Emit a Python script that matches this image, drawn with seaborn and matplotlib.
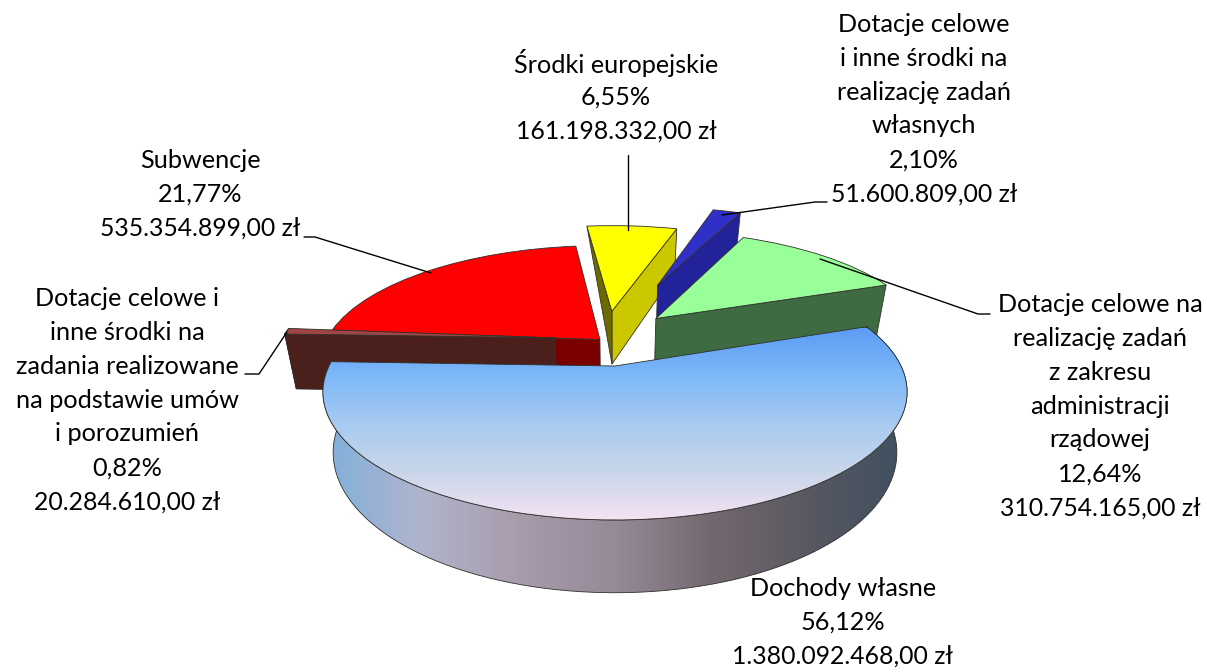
import numpy as np
import matplotlib
matplotlib.use("Agg")
import matplotlib.pyplot as plt
import matplotlib.transforms as mtransforms
from matplotlib.path import Path
from matplotlib.patches import PathPatch
import seaborn as sns

# ---- data ----
names = ["Dochody własne",
         "Dotacje celowe i\ninne środki na\nzadania realizowane\nna podstawie umów\ni porozumień",
         "Subwencje",
         "Środki europejskie",
         "Dotacje celowe\ni inne środki na\nrealizację zadań\nwłasnych",
         "Dotacje celowe na\nrealizację zadań\nz zakresu\nadministracji\nrządowej"]
shares = [56.12, 0.82, 21.77, 6.55, 2.10, 12.64]
share_text = ["56,12%", "0,82%", "21,77%", "6,55%", "2,10%", "12,64%"]
amounts = ["1.380.092.468,00 zł", "20.284.610,00 zł", "535.354.899,00 zł",
           "161.198.332,00 zł", "51.600.809,00 zł", "310.754.165,00 zł"]
top_colors = ["none", "#A04545", "#FF0000", "#FFFF00", "#3030C8", "#99FF99"]
low_face = [None, None, None, "#CCC800", "#22229A", "#3F6B43"]     # face at the smaller angle
high_face = [None, "#4A1F1C", "#7A0000", "#6B6B00", None, None]   # face at the larger angle
offsets = [(0.0, 0.0), (-0.22, 0.24), (-0.055, 0.225), (-0.012, 0.49), (0.172, 0.76), (0.155, 0.42)]
label_pos = [(843, 622), (127, 400), (200, 194), (616, 97), (924, 109), (1100, 406)]
leaders = [None,
           ([287, 259, 245], [332, 374, 374]),
           ([431, 315, 304], [273, 237, 237]),
           ([628, 628], [230, 155]),
           ([722, 815, 827], [215, 202, 202]),
           ([820, 978, 990], [259, 314, 314])]

# ---- projection of the pie plane ----
XC, YC, A, B, P = 615.0, 366.0, 286.0, 122.7, 0.203
HEIGHT, TAPER = 58.0, 0.965
LINE_STEP = 33.9


def project(pts):
    pts = np.asarray(pts, float)
    u, v = pts[:, 0], pts[:, 1]
    w = 1 + P * v
    return np.column_stack([XC + A * u / w, YC - B * v / w])


def project_low(pts):
    pts = np.asarray(pts, float)
    top = project(pts)
    w = 1 + P * pts[:, 1]
    return np.column_stack([XC + TAPER * (top[:, 0] - XC), top[:, 1] + HEIGHT / w])


class PieProjection(mtransforms.Transform):
    input_dims = output_dims = 2
    is_separable = False
    has_inverse = False

    def transform_non_affine(self, values):
        return project(values)


sns.set_theme(style="white")
plt.rcParams["font.family"] = ["Lato", "DejaVu Sans"]
fig = plt.figure(figsize=(12.07, 6.72), dpi=100, facecolor="white")
ax = fig.add_axes([0, 0, 1, 1])

wedges, _ = ax.pie(shares, startangle=20, counterclock=False, radius=1.0,
                   colors=["white"] * len(shares))
ax.set_aspect("auto")
ax.set_xlim(0, 1207)
ax.set_ylim(672, 0)
ax.axis("off")

EDGE = "#30302c"
proj = PieProjection()
top_grad = sns.blend_palette(["#5C9CF5", "#7DB8F8", "#A8CBF0", "#C8D6EA", "#F5E3F3"], as_cmap=True)
wall_grad = sns.blend_palette(["#7FB0DC", "#B0B4CC", "#A89CAC", "#958A98", "#74686F",
                               "#585860", "#3E5060"], as_cmap=True)


def arc(center, t1, t2, n=80):
    t = np.radians(np.linspace(t1, t2, n))
    return np.column_stack([center[0] + np.cos(t), center[1] + np.sin(t)])


def face(center, theta, color, z, triangle=False):
    rim = arc(center, theta, theta, 1)
    apex = np.array([center])
    poly = [project(apex)[0], project(rim)[0]]
    if not triangle:
        poly.append(project_low(rim)[0])
    poly.append(project_low(apex)[0])
    ax.fill(*zip(*poly), facecolor=color, edgecolor=EDGE, lw=0.6, zorder=z)


draw_order = [2, 3, 4, 5, 1, 0]
for rank, i in enumerate(draw_order):
    w = wedges[i]
    z = 3 + rank * 3
    c = offsets[i]
    w.set_center(c)
    w.set_transform(proj + ax.transData)
    w.set_zorder(z + 2)
    w.set_edgecolor(EDGE)
    w.set_linewidth(0.6)
    if low_face[i]:
        face(c, w.theta1, low_face[i], z)
    if high_face[i]:
        face(c, w.theta2, high_face[i], z + 1, triangle=(i == 3))
    if i == 1:  # short rim of the thin slice
        a = arc(c, w.theta1, w.theta2, 6)
        ring = np.vstack([project(a), project_low(a)[::-1]])
        ax.fill(ring[:, 0], ring[:, 1], facecolor=high_face[i], edgecolor=EDGE, lw=0.6, zorder=z)
    if i == 0:
        a = arc(c, w.theta1, w.theta2, 200)
        ring = np.vstack([project(a), project_low(a)[::-1]])
        outline = PathPatch(Path(ring, closed=False), facecolor="none", edgecolor=EDGE,
                            lw=0.6, transform=ax.transData, zorder=z + 1)
        ax.add_patch(outline)
        im = ax.imshow(np.linspace(0, 1, 256)[None, :], cmap=wall_grad, aspect="auto",
                       extent=(323, 907, 600, 320), zorder=z, interpolation="bilinear")
        im.set_clip_path(PathPatch(Path(ring), transform=ax.transData))
        w.set_facecolor("none")
        im2 = ax.imshow(np.linspace(0, 1, 256)[:, None], cmap=top_grad, aspect="auto",
                        extent=(320, 910, 520, 328), origin="upper", zorder=z + 1.5,
                        interpolation="bilinear")
        im2.set_clip_path(w)
    else:
        w.set_facecolor(top_colors[i])

ax.set_xlim(0, 1207)
ax.set_ylim(672, 0)

for i, (name, s, am) in enumerate(zip(names, share_text, amounts)):
    rows = name.split("\n") + [s, am]
    first = label_pos[i][1] - (len(rows) - 1) / 2 * LINE_STEP
    for k, row in enumerate(rows):
        ax.text(label_pos[i][0], first + k * LINE_STEP, row, ha="center", va="center",
                fontsize=17.8 if k == len(rows) - 1 else 18.2, color="black", zorder=40)
    if leaders[i]:
        ax.plot(leaders[i][0], leaders[i][1], color="black", lw=1.0, zorder=30)

fig.savefig("out.png", dpi=100, facecolor="white")
